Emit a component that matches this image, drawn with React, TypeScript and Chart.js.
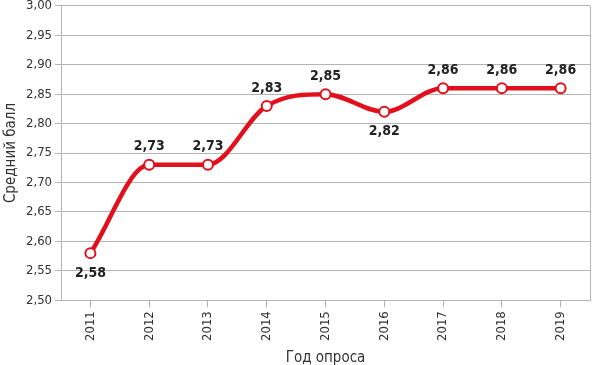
import React, { useEffect, useRef } from "react";
import { Chart, registerables } from "chart.js";

Chart.register(...registerables);

const years = ["2011", "2012", "2013", "2014", "2015", "2016", "2017", "2018", "2019"];
const scores = [2.58, 2.73, 2.73, 2.83, 2.85, 2.82, 2.86, 2.86, 2.86];
const labelBelow = [true, false, false, false, false, true, false, false, false];

const FONT = "'Liberation Sans Narrow', 'DejaVu Sans Condensed', 'Roboto', sans-serif";
const RED = "#e2101c";
const GRID = "#b4b4b4";

const fmt = (v: number) => v.toFixed(2).replace(".", ",");

const extras = {
  id: "extras",
  afterDatasetsDraw(chart: any) {
    const { ctx, chartArea } = chart;
    ctx.save();
    ctx.strokeStyle = GRID;
    ctx.lineWidth = 1;
    ctx.beginPath();
    const rx = Math.round(chartArea.right) + 0.5;
    ctx.moveTo(rx, chartArea.top);
    ctx.lineTo(rx, chartArea.bottom);
    ctx.stroke();
    const meta = chart.getDatasetMeta(0);
    ctx.fillStyle = "#222";
    ctx.font = "bold 14px " + FONT;
    ctx.textAlign = "center";
    ctx.textBaseline = "middle";
    meta.data.forEach((pt: any, i: number) => {
      const dy = labelBelow[i] ? 20 : -18;
      ctx.fillText(fmt(scores[i]), pt.x, pt.y + dy);
    });
    ctx.restore();
  },
};

export default function App() {
  const ref = useRef<HTMLCanvasElement>(null);
  useEffect(() => {
    const chart = new Chart(ref.current!, {
      type: "line",
      data: {
        labels: years,
        datasets: [
          {
            data: scores,
            borderColor: RED,
            borderWidth: 4.5,
            cubicInterpolationMode: "monotone",
            pointRadius: 5,
            pointBorderWidth: 2,
            pointBackgroundColor: "#fff",
            pointBorderColor: RED,
          },
        ],
      },
      options: {
        animation: false,
        responsive: false,
        maintainAspectRatio: false,
        layout: { padding: { top: 0, right: 10, left: 2, bottom: 0 } },
        plugins: { legend: { display: false }, tooltip: { enabled: false } },
        scales: {
          x: {
            offset: true,
            grid: { drawOnChartArea: false, drawTicks: true, tickLength: 7, color: GRID },
            border: { color: GRID },
            ticks: {
              minRotation: 90,
              maxRotation: 90,
              color: "#333",
              font: { family: FONT, size: 13 },
              padding: 4,
            },
            title: {
              display: true,
              text: "Год опроса",
              color: "#333",
              font: { family: FONT, size: 15 },
              padding: { top: 4, bottom: 0 },
            },
          },
          y: {
            min: 2.5,
            max: 3.0,
            grid: { color: GRID, tickLength: 6 },
            border: { color: GRID },
            ticks: {
              stepSize: 0.05,
              color: "#333",
              font: { family: FONT, size: 13 },
              padding: 3,
              callback: (v: any) => fmt(Number(v)),
            },
            title: {
              display: true,
              text: "Средний балл",
              color: "#333",
              font: { family: FONT, size: 15 },
              padding: { top: 0, bottom: 3 },
            },
          },
        },
      },
      plugins: [extras],
    });
    return () => chart.destroy();
  }, []);
  return (
    <div style={{ position: "fixed", left: 0, top: 0, width: 600, height: 365, overflow: "hidden", background: "#fff" }}>
      <canvas ref={ref} width={600} height={372} style={{ position: "absolute", left: 0, top: -5 }} />
    </div>
  );
}
